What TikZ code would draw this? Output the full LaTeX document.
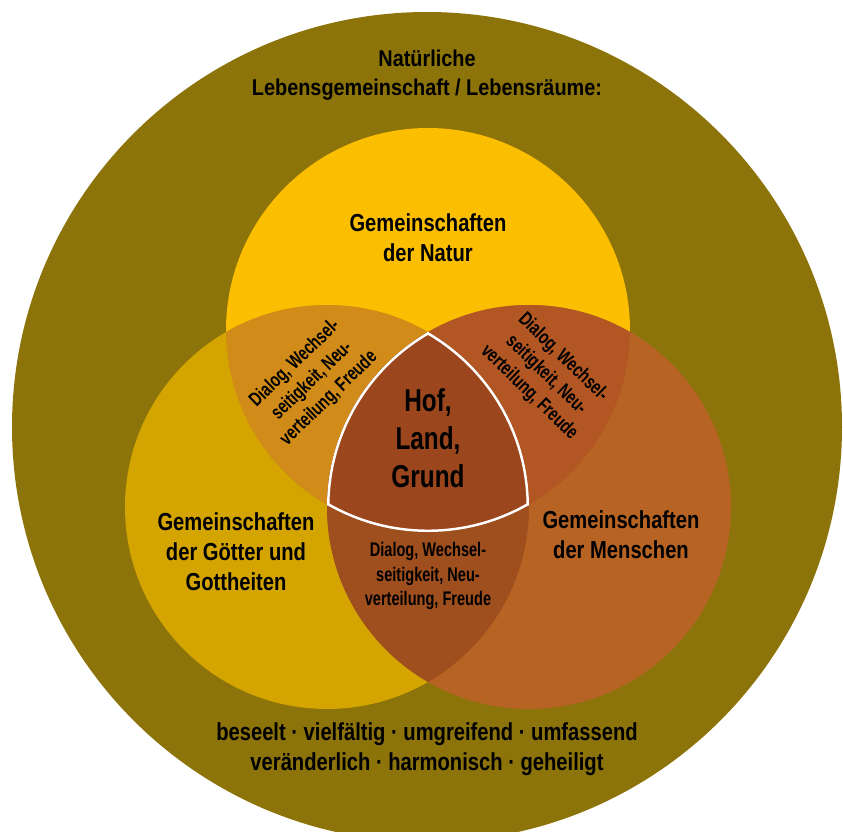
\documentclass[tikz,border=0pt]{standalone}
\usepackage{fontspec}
\setmainfont{Liberation Sans}[FakeStretch=0.82]
\newfontfamily\titlefont{Liberation Sans}[FakeStretch=0.87]
\newfontfamily\smallfont{Liberation Sans}[FakeStretch=0.74]
\newfontfamily\corefont{Liberation Sans}[FakeStretch=0.77]
\usepackage{xcolor}

\definecolor{outercol}{RGB}{140,115,10}
\definecolor{naturcol}{RGB}{251,190,0}
\definecolor{goettercol}{RGB}{212,165,0}
\definecolor{menschencol}{RGB}{183,99,35}
\definecolor{ngcol}{RGB}{208,139,24}
\definecolor{nmcol}{RGB}{178,87,35}
\definecolor{gmcol}{RGB}{159,79,30}
\definecolor{centercol}{RGB}{155,70,29}

\begin{document}
\begin{tikzpicture}[
    x=0.02cm, y=0.02cm,
    font=\bfseries,
    biglabel/.style={
        align=center,
        font=\bfseries\fontsize{14}{17}\selectfont,
        text=black
    },
    titlelabel/.style={
        align=center,
        font=\titlefont\bfseries\fontsize{13}{16.6}\selectfont,
        text=black
    },
    smalllabel/.style={
        align=center,
        font=\smallfont\bfseries\fontsize{11.2}{13.9}\selectfont,
        text=black
    },
    corelabel/.style={
        align=center,
        font=\corefont\bfseries\fontsize{18}{21.6}\selectfont,
        text=black
    }
]
\useasboundingbox (0,0) rectangle (843,-832);

% =========================================================
% Circles
% =========================================================
\coordinate (welt) at (427,-427);
\coordinate (natur) at (428,-330);
\coordinate (goetter) at (327,-507);
\coordinate (menschen) at (529,-507);

\fill[outercol] (welt) circle[radius=415];

\fill[naturcol] (natur) circle[radius=202];
\fill[goettercol] (goetter) circle[radius=202];
\fill[menschencol] (menschen) circle[radius=202];

% =========================================================
% Overlaps
% =========================================================
\begin{scope}
    \clip (natur) circle[radius=202];
    \fill[ngcol] (goetter) circle[radius=202];
    \fill[nmcol] (menschen) circle[radius=202];
\end{scope}

\begin{scope}
    \clip (goetter) circle[radius=202];
    \fill[gmcol] (menschen) circle[radius=202];
\end{scope}

\begin{scope}
    \clip (natur) circle[radius=202];
    \clip (goetter) circle[radius=202];
    \clip (menschen) circle[radius=202];
    \fill[centercol] (natur) circle[radius=202];
    \draw[white, line width=2.8pt] (natur) circle[radius=202];
    \draw[white, line width=2.8pt] (goetter) circle[radius=202];
    \draw[white, line width=2.8pt] (menschen) circle[radius=202];
\end{scope}

% =========================================================
% Labels
% =========================================================
\node[titlelabel] (titel) at (427,-75)
{Natürliche\\Lebensgemeinschaft / Lebensräume:};

\node[biglabel] (naturtext) at (428,-238)
{Gemeinschaften\\der Natur};

\node[biglabel] (goettertext) at (236,-552)
{Gemeinschaften\\der Götter und\\Gottheiten};

\node[biglabel] (menschentext) at (621,-535)
{Gemeinschaften\\der Menschen};

\node[corelabel] (hof) at (428,-438)
{Hof,\\Land,\\Grund};

\node[smalllabel, rotate=44] (dialogng) at (312,-381)
{Dialog, Wechsel-\\seitigkeit, Neu-\\verteilung, Freude};

\node[smalllabel, rotate=-44] (dialognm) at (546,-375)
{Dialog, Wechsel-\\seitigkeit, Neu-\\verteilung, Freude};

\node[smalllabel] (dialoggm) at (428,-576)
{Dialog, Wechsel-\\seitigkeit, Neu-\\verteilung, Freude};

\node[biglabel] (eigenschaften) at (427,-749)
{beseelt · vielfältig · umgreifend · umfassend\\veränderlich · harmonisch · geheiligt};

\end{tikzpicture}
\end{document}
